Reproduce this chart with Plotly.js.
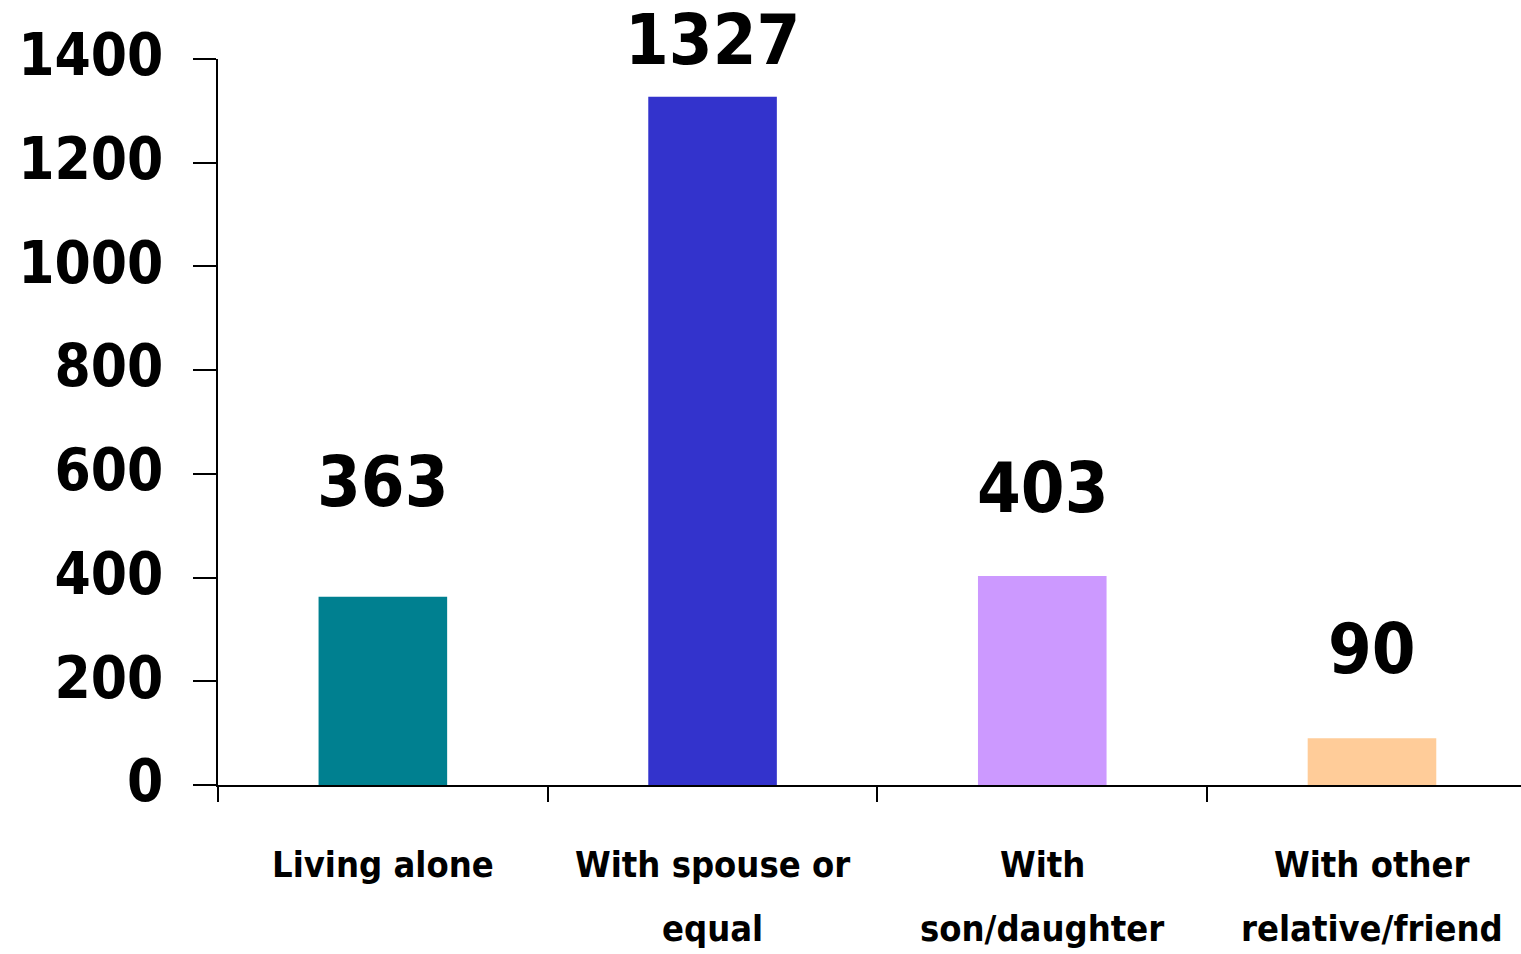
<!DOCTYPE html>
<html>
<head>
<meta charset="utf-8">
<script src="https://cdn.plot.ly/plotly-3.0.1.min.js"></script>
<style>html,body{margin:0;padding:0;background:#fff;}#chart{width:1521px;height:954px;}</style>
</head>
<body>
<div id="chart"></div>
<script>
// ---- data ----
const categories = ["Living alone", "With spouse or equal", "With son/daughter", "With other relative/friend"];
const values = [363, 1327, 403, 90];
const labelLine1 = ["Living alone", "With spouse or", "With", "With other"];
const labelLine2 = ["", "equal", "son/daughter", "relative/friend"];
const yTickVals = [0, 200, 400, 600, 800, 1000, 1200, 1400];

// ---- style ----
const barColors = ["#008090", "#3333CC", "#CC99FF", "#FFCC99"];
const valueLabelShift = [115, 57, 88, 89];
const FONT = "DejaVu Sans Condensed, DejaVu Sans, sans-serif";

const trace = {
  type: "bar",
  x: categories,
  y: values,
  width: 0.39,
  marker: {color: barColors, line: {width: 0}},
  hoverinfo: "none"
};

const annotations = [];
categories.forEach((c, i) => {
  annotations.push({
    x: c, y: values[i], xref: "x", yref: "y",
    text: "<b>" + values[i] + "</b>",
    showarrow: false, yanchor: "middle", xanchor: "center",
    yshift: valueLabelShift[i],
    font: {family: FONT, size: 70, color: "#000"}
  });
  annotations.push({
    x: c, y: 0, xref: "x", yref: "paper",
    text: "<b>" + labelLine1[i] + "</b>",
    showarrow: false, yanchor: "middle", xanchor: "center",
    yshift: -79,
    font: {family: FONT, size: 36, color: "#000"}
  });
  if (labelLine2[i]) {
    annotations.push({
      x: c, y: 0, xref: "x", yref: "paper",
      text: "<b>" + labelLine2[i] + "</b>",
      showarrow: false, yanchor: "middle", xanchor: "center",
      yshift: -143,
      font: {family: FONT, size: 36, color: "#000"}
    });
  }
});

const layout = {
  width: 1521, height: 954,
  margin: {l: 218, r: 0, t: 59, b: 169, pad: 0},
  paper_bgcolor: "#fff", plot_bgcolor: "#fff",
  showlegend: false,
  xaxis: {
    type: "category",
    range: [-0.5, 3.452],
    tickson: "boundaries",
    ticks: "outside", ticklen: 15, tickwidth: 2, tickcolor: "#000",
    showticklabels: false,
    showline: true, linecolor: "#000", linewidth: 2,
    showgrid: false, zeroline: false, fixedrange: true
  },
  yaxis: {
    range: [0, 1400],
    tickvals: yTickVals,
    ticktext: yTickVals.map(v => "<b>" + v + "</b>"),
    ticks: "outside", ticklen: 23, tickwidth: 2, tickcolor: "#000",
    ticklabelstandoff: 18,
    ticklabelshift: -4,
    tickfont: {family: FONT, size: 58, color: "#000"},
    showline: true, linecolor: "#000", linewidth: 2,
    showgrid: false, zeroline: false, fixedrange: true
  },
  annotations: annotations
};

Plotly.newPlot("chart", [trace], layout, {displayModeBar: false, staticPlot: true});
</script>
</body>
</html>
